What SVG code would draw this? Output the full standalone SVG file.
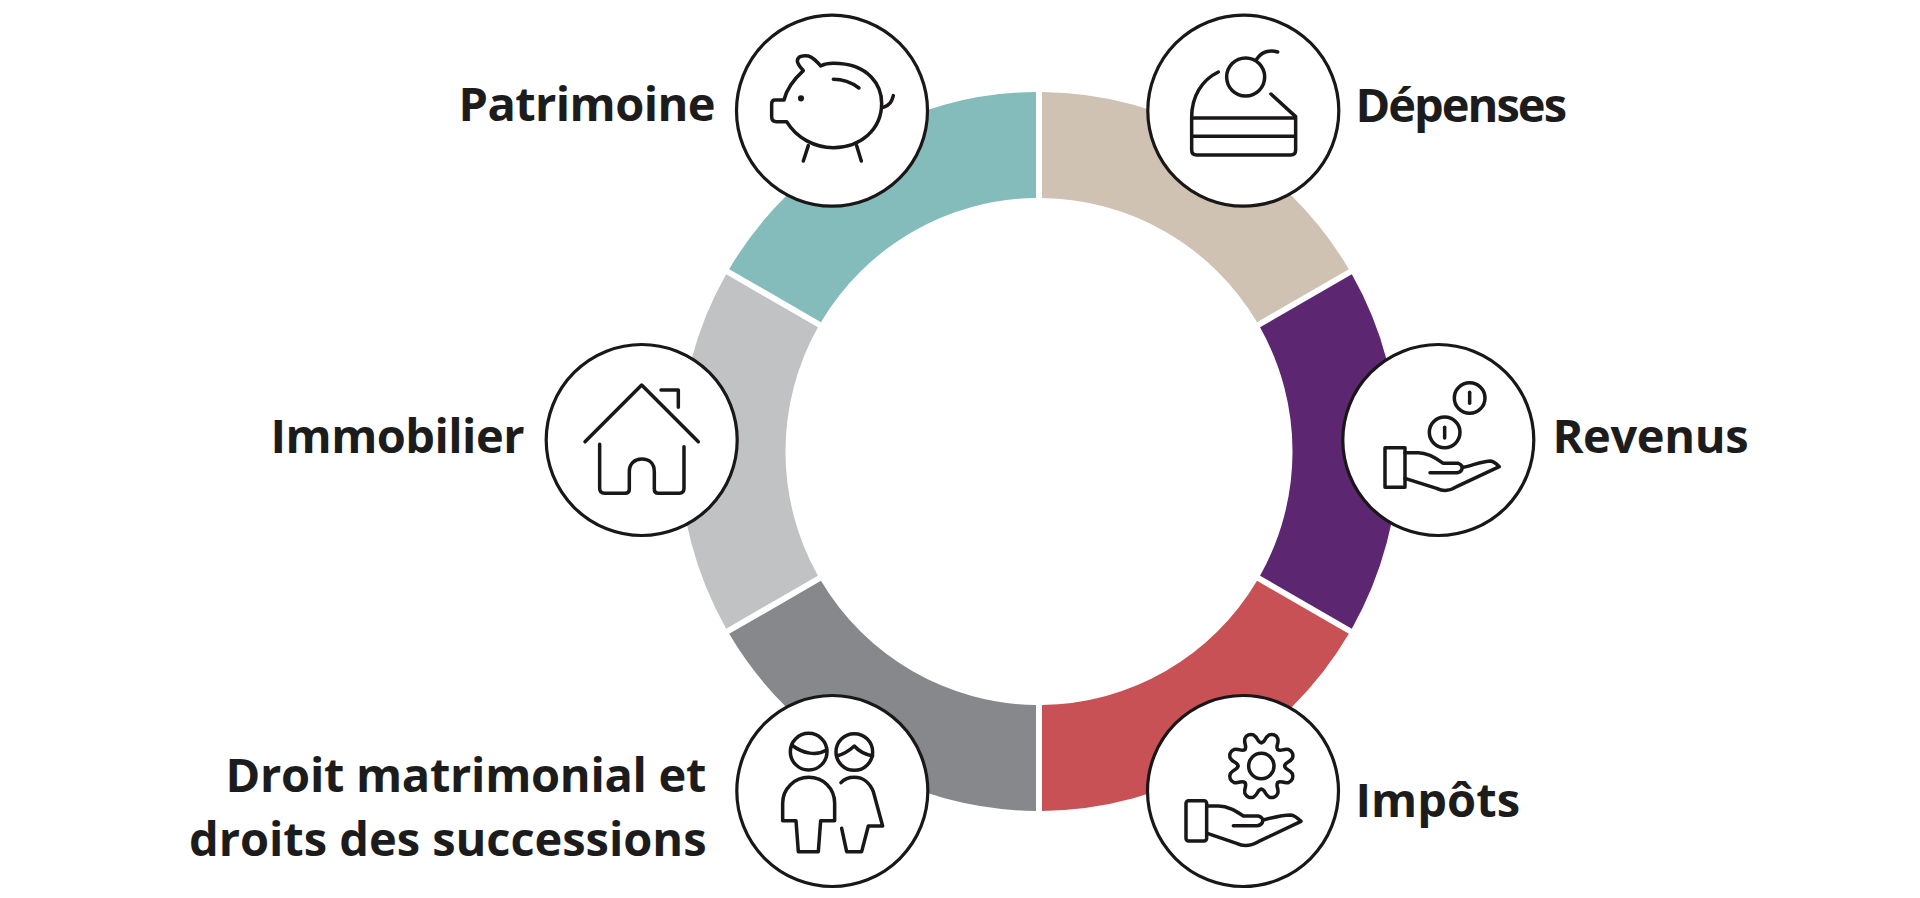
<svg xmlns="http://www.w3.org/2000/svg" width="1920" height="898" viewBox="0 0 1920 898">
<style>
.disc{fill:#fff;stroke:#1a1718;stroke-width:3.2}
.ic{fill:none;stroke:#1a1718;stroke-width:10.5;stroke-linecap:round;stroke-linejoin:round}
.lb{font-family:"Open Sans","Noto Sans",sans-serif;font-weight:700;font-size:47px;fill:#1d1c1d}
</style>
<defs>
<path id="lobe" d="M70,0C70.9,12.5 84.5,8.9 93.1,23.2C97.4,33.5 92.6,45.2 82.3,49.4C66.1,53.5 59,41.3 49.5,49.5"/>
</defs>
<rect width="1920" height="898" fill="#fff"/>
<g id="ring" transform="translate(1039 451.5)">
<path fill="#cfc2b3" d="M3,-359.49A359.5,359.5 0 0 1 309.84,-182.35L218.04,-129.35A253.5,253.5 0 0 0 3,-253.48Z"/>
<path fill="#5c2670" d="M312.84,-177.16A359.5,359.5 0 0 1 312.84,177.16L221.04,124.15A253.5,253.5 0 0 0 221.04,-124.15Z"/>
<path fill="#c85155" d="M309.84,182.35A359.5,359.5 0 0 1 3,359.49L3,253.48A253.5,253.5 0 0 0 218.04,129.35Z"/>
<path fill="#87888c" d="M-3,359.49A359.5,359.5 0 0 1 -309.84,182.35L-218.04,129.35A253.5,253.5 0 0 0 -3,253.48Z"/>
<path fill="#c1c2c4" d="M-312.84,177.16A359.5,359.5 0 0 1 -312.84,-177.16L-221.04,-124.15A253.5,253.5 0 0 0 -221.04,124.15Z"/>
<path fill="#84bcbc" d="M-309.84,-182.35A359.5,359.5 0 0 1 -3,-359.49L-3,-253.48A253.5,253.5 0 0 0 -218.04,-129.35Z"/>
</g>
<g id="connectors"></g>
<g id="patrimoine">
<circle class="disc" cx="832" cy="110.7" r="95.5"/>
<g transform="translate(720 0) scale(.3333)" class="ic">
<path d="M250,212C240,200 232,192 232,182C234,168 250,166 265,168C280,172 292,186 302,198C312,193 325,190 340,190C450,190 485,260 485,310C485,390 420,443 340,443C285,443 230,415 200,365H170Q155,365 155,350V312Q155,300 165,300H192C200,265 225,235 250,212Z"/>
<path d="M490,322C510,315 515,305 520,287"/>
<path d="M265,437L250,483M410,437L424,483"/>
<path d="M340,238C370,238 395,248 417,264"/>
<circle cx="243" cy="295" r="4" fill="#1a1718"/>
</g>
<text class="lb" x="458.5" y="121" textLength="257" lengthAdjust="spacing">Patrimoine</text>
</g>
<g id="depenses">
<circle class="disc" cx="1243.3" cy="110.7" r="95.5"/>
<g transform="translate(1130 0) scale(.3333)" class="ic">
<circle cx="347" cy="231" r="57"/>
<path d="M380,178C395,155 420,148 443,156"/>
<path d="M265,216C215,240 185,290 185,352"/>
<path d="M423,282L497,350"/>
<path d="M185,354H497V450Q497,465 482,465H200Q185,465 185,450ZM185,409H497"/>
</g>
<text class="lb" x="1355.5" y="122" textLength="211.5" lengthAdjust="spacing">Dépenses</text>
</g>
<g id="revenus">
<circle class="disc" cx="1438.3" cy="440" r="95.5"/>
<g transform="translate(1330 330) scale(.3333)" class="ic">
<circle cx="419" cy="204" r="46"/><path d="M419,187V220"/>
<circle cx="344" cy="307" r="46"/><path d="M344,292V324"/>
<path d="M165,353H225V472H165Z"/>
<path d="M225,368H265C295,368 320,385 340,400H385Q400,405 395,420Q390,428 380,428H300"/>
<path d="M400,412C430,405 460,393 482,393Q492,394 508,410L380,470Q350,490 320,475L225,445"/>
</g>
<text class="lb" x="1552.5" y="453" textLength="196" lengthAdjust="spacing">Revenus</text>
</g>
<g id="impots">
<circle class="disc" cx="1243" cy="791" r="95.5"/>
<g transform="translate(1130 680) scale(.3333)" class="ic">
<g transform="translate(394 258)">
<use href="#lobe"/><use href="#lobe" transform="rotate(45)"/><use href="#lobe" transform="rotate(90)"/><use href="#lobe" transform="rotate(135)"/><use href="#lobe" transform="rotate(180)"/><use href="#lobe" transform="rotate(225)"/><use href="#lobe" transform="rotate(270)"/><use href="#lobe" transform="rotate(315)"/>
<circle r="38"/>
</g>
<rect x="168" y="362" width="62" height="121" rx="8"/>
<path d="M230,378H265C295,378 320,395 340,408H385Q402,412 397,428Q392,437 380,437H310"/>
<path d="M400,420C430,412 460,405 482,405Q495,406 513,424L385,485Q350,505 320,490L232,460"/>
</g>
<text class="lb" x="1355.5" y="817" textLength="164.5" lengthAdjust="spacing">Impôts</text>
</g>
<g id="droit">
<circle class="disc" cx="832.3" cy="791" r="95.5"/>
<g transform="translate(720 680) scale(.3333)" class="ic">
<circle cx="266" cy="215" r="55"/>
<path d="M215,195C250,222 290,228 320,210"/>
<path d="M188,422V370C188,325 225,292 266,292C310,292 344,325 344,370V422H302L295,515H235L228,422Z"/>
<circle cx="403" cy="216" r="55"/>
<path d="M350,228C375,222 390,210 403,198C415,212 430,222 458,228"/>
<path d="M363,308C375,295 390,292 403,292C430,292 450,310 460,335L488,438H445L425,515H380L365,445"/>
</g>
<text class="lb" x="225.5" y="792" textLength="481" lengthAdjust="spacing">Droit matrimonial et</text>
<text class="lb" x="189" y="856" textLength="517.5" lengthAdjust="spacing">droits des successions</text>
</g>
<g id="immobilier">
<circle class="disc" cx="641.7" cy="440" r="95.5"/>
<g transform="translate(530 330) scale(.3333)" class="ic">
<path d="M165,335L335,165L505,335"/>
<path d="M393,180H445V232"/>
<path d="M209,343V475Q209,490 224,490H285Q298,490 298,478V425C298,400 315,387 335,387C358,387 373,400 373,425V478Q373,490 385,490H448Q462,490 462,475V350"/>
</g>
<text class="lb" x="270.5" y="453" textLength="254" lengthAdjust="spacing">Immobilier</text>
</g>
</svg>
